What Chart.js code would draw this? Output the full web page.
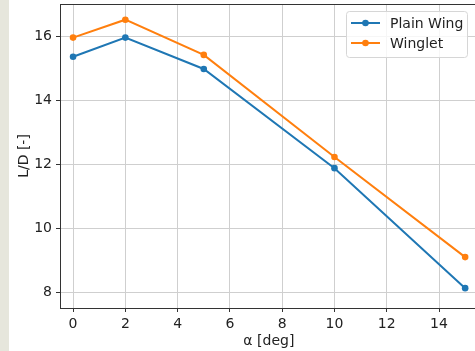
<!DOCTYPE html>
<html>
<head>
<script src="https://cdn.jsdelivr.net/npm/chart.js@4.4.1/dist/chart.umd.min.js"></script>
<style>
  html, body { margin: 0; padding: 0; }
  body {
    width: 475px; height: 351px; overflow: hidden;
    background: linear-gradient(to right, #e6e6dc 0, #e6e6dc 9px, #ffffff 9px);
  }
  #wrap { position: relative; width: 475px; height: 351px; overflow: hidden; }
</style>
</head>
<body>
<div id="wrap"><canvas id="chart" width="481" height="351"></canvas></div>
<script>
// ---- data ----
const alpha = [0, 2, 5, 10, 15];
const plainWing = [15.35, 15.95, 14.97, 11.87, 8.12];
const winglet = [15.95, 16.51, 15.41, 12.22, 9.09];
const seriesNames = ['Plain Wing', 'Winglet'];
const seriesColors = ['#1f77b4', '#ff7f0e'];

const FONT = 'DejaVu Sans';
const TEXT = '#222222';

const toPoints = ys => alpha.map((x, i) => ({ x: x, y: ys[i] }));

// frame (top + right spines) and matplotlib-style legend
const framePlugin = {
  id: 'frame',
  afterDatasetsDraw(chart) {
    const { ctx, chartArea: a } = chart;
    ctx.save();
    ctx.strokeStyle = '#333333';
    ctx.lineWidth = 1;
    ctx.beginPath();
    ctx.moveTo(a.left, a.top + 0.5);
    ctx.lineTo(a.right, a.top + 0.5);
    ctx.moveTo(a.right - 0.5, a.top);
    ctx.lineTo(a.right - 0.5, a.bottom);
    ctx.stroke();

    // legend box
    const bx = a.left + 286, by = a.top + 7, bw = 121, bh = 46;
    ctx.fillStyle = 'rgba(255,255,255,0.8)';
    ctx.strokeStyle = '#d6d6d6';
    ctx.beginPath();
    ctx.roundRect(bx + 0.5, by + 0.5, bw, bh, 3);
    ctx.fill();
    ctx.stroke();

    ctx.font = '14px "' + FONT + '"';
    ctx.textBaseline = 'middle';
    ctx.textAlign = 'left';
    seriesNames.forEach((name, i) => {
      const cy = by + 12 + i * 20;
      ctx.strokeStyle = seriesColors[i];
      ctx.lineWidth = 2;
      ctx.beginPath();
      ctx.moveTo(bx + 5, cy);
      ctx.lineTo(bx + 34, cy);
      ctx.stroke();
      ctx.fillStyle = seriesColors[i];
      ctx.beginPath();
      ctx.arc(bx + 19.5, cy, 3.3, 0, Math.PI * 2);
      ctx.fill();
      ctx.fillStyle = TEXT;
      ctx.fillText(name, bx + 44, cy + 1);
    });
    ctx.restore();
  }
};

new Chart(document.getElementById('chart'), {
  type: 'line',
  data: {
    datasets: [
      {
        label: seriesNames[0],
        data: toPoints(plainWing),
        borderColor: seriesColors[0],
        backgroundColor: seriesColors[0],
        borderWidth: 2,
        pointRadius: 3.3,
        pointHoverRadius: 3.3,
        pointBorderWidth: 0,
        tension: 0
      },
      {
        label: seriesNames[1],
        data: toPoints(winglet),
        borderColor: seriesColors[1],
        backgroundColor: seriesColors[1],
        borderWidth: 2,
        pointRadius: 3.3,
        pointHoverRadius: 3.3,
        pointBorderWidth: 0,
        tension: 0
      }
    ]
  },
  options: {
    responsive: false,
    animation: false,
    events: [],
    layout: { padding: { top: 4, right: 0, left: 0, bottom: 0 } },
    plugins: {
      legend: { display: false },
      tooltip: { enabled: false }
    },
    scales: {
      x: {
        type: 'linear',
        min: -0.5,
        max: 15.48,
        afterFit: s => { s.height = 43; s.paddingLeft = 0; s.paddingRight = 0; },
        ticks: {
          stepSize: 2,
          includeBounds: false,
          padding: 4,
          color: TEXT,
          font: { family: FONT, size: 14 },
          maxRotation: 0
        },
        grid: {
          color: '#cfcfcf',
          lineWidth: 1,
          tickLength: 4,
          tickColor: '#333333'
        },
        border: { color: '#333333', width: 1 },
        title: {
          display: true,
          text: 'α [deg]',
          color: TEXT,
          font: { family: FONT, size: 14 },
          padding: { top: 0, bottom: 1 }
        }
      },
      y: {
        min: 7.5,
        max: 17,
        afterFit: s => { s.width = 60; s.paddingTop = 0; s.paddingBottom = 0; },
        ticks: {
          stepSize: 2,
          includeBounds: false,
          padding: 4,
          color: TEXT,
          font: { family: FONT, size: 14 }
        },
        grid: {
          color: '#cfcfcf',
          lineWidth: 1,
          tickLength: 4,
          tickColor: '#333333'
        },
        border: { color: '#333333', width: 1 },
        title: {
          display: true,
          text: 'L/D [-]',
          color: TEXT,
          font: { family: FONT, size: 14 },
          padding: { top: 16, bottom: 0 }
        }
      }
    }
  },
  plugins: [framePlugin]
});
</script>
</body>
</html>
